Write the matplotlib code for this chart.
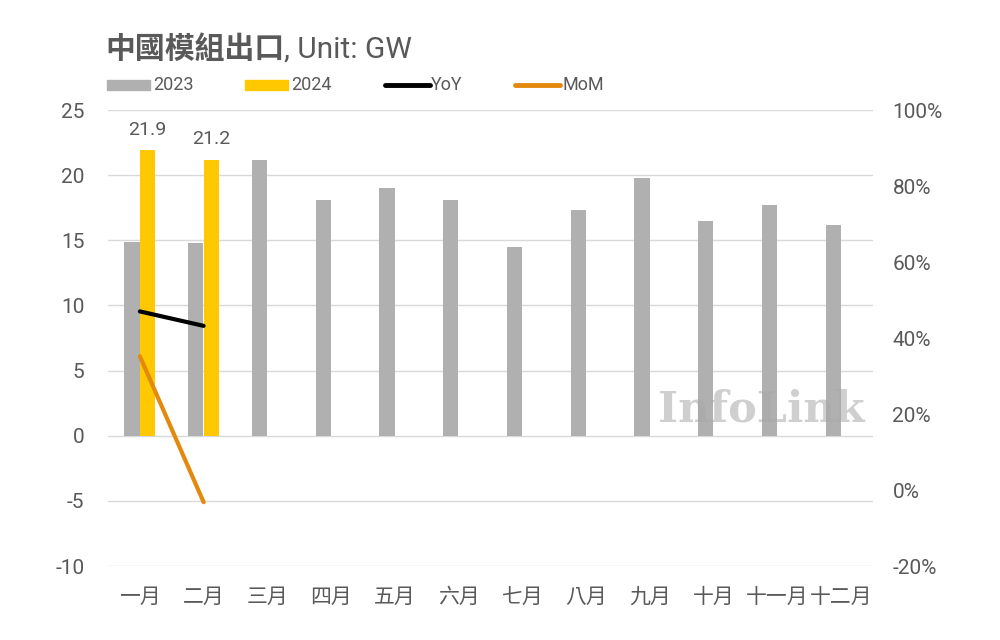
import matplotlib
matplotlib.use('Agg')
import matplotlib.pyplot as plt
import numpy as np
from matplotlib.patches import Rectangle
from matplotlib.lines import Line2D

plt.rcParams['font.family'] = ['Roboto', 'Noto Sans CJK TC', 'DejaVu Sans']
plt.rcParams['axes.unicode_minus'] = False

# Datos
meses = ['一月', '二月', '三月', '四月', '五月', '六月', '七月', '八月', '九月', '十月', '十一月', '十二月']
v2023 = [14.9, 14.8, 21.2, 18.1, 19.0, 18.1, 14.5, 17.3, 19.8, 16.5, 17.7, 16.2]
v2024 = [21.9, 21.2]
yoy = [47.0, 43.2]
mom = [35.2, -3.2]

c_gris = '#B0B0B0'
c_amarillo = '#FFC800'
c_naranja = '#E38A0E'
c_texto = '#595959'
c_grid = '#D9D9D9'

fig = plt.figure(figsize=(10, 6.4), dpi=100)
ax = fig.add_axes([0.108, 0.1156, 0.765, 0.7125])
ax2 = ax.twinx()

x = np.arange(len(meses))
w = 0.24
ax.bar(x - w / 2 - 0.005, v2023, w, color=c_gris, zorder=2)
x24 = np.arange(len(v2024))
ax.bar(x24 + w / 2 + 0.005, v2024, w, color=c_amarillo, zorder=2)
for xi, v in zip(x24, v2024):
    ax.text(xi + w / 2, v + 0.9, f'{v}', ha='center', va='bottom', fontsize=14, color=c_texto)

ax.set_ylim(-10, 25)
ax.set_yticks(np.arange(-10, 26, 5))
ax.set_xlim(-0.5, len(meses) - 0.5)
ax.set_xticks(x)
ax.set_xticklabels(meses, family=['Noto Sans CJK TC'])
ax.grid(axis='y', color=c_grid, linewidth=1, zorder=0)
ax.tick_params(axis='both', length=0, labelsize=15, labelcolor=c_texto)
ax.tick_params(axis='x', pad=14)
ax.tick_params(axis='y', pad=17)

ax2.set_ylim(-20, 100)
ax2.set_yticks(np.arange(-20, 101, 20))
ax2.set_yticklabels([f'{t}%' for t in range(-20, 101, 20)])
ax2.tick_params(axis='y', length=0, labelsize=15, labelcolor=c_texto, pad=14)
ax2.plot(x24, yoy, color='black', linewidth=3, solid_capstyle='round', zorder=5)
ax2.plot(x24, mom, color=c_naranja, linewidth=3, solid_capstyle='round', zorder=5)

for a in (ax, ax2):
    for s in a.spines.values():
        s.set_visible(False)

# Marca de agua
ax.text(9.75, 2.0, 'InfoLink', ha='center', va='center', fontsize=31, fontweight='bold',
        family='DejaVu Serif', color='#A8A8A8', alpha=0.55, zorder=6)

# Título
t1 = fig.text(0.105, 0.91, '中國模組出口', fontsize=21.5, fontweight='bold', color=c_texto,
              family=['Noto Sans CJK TC'], va='baseline')
r = fig.canvas.get_renderer()
bb = t1.get_window_extent(renderer=r)
fig.text(bb.x1 / fig.bbox.width, 0.91, ', Unit: GW', fontsize=21.5, color=c_texto, va='baseline')

# Leyenda
ly = 0.867
fig.patches.append(Rectangle((0.107, ly - 0.008), 0.043, 0.016, transform=fig.transFigure,
                             color=c_gris, figure=fig))
fig.text(0.153, ly, '2023', fontsize=13, color=c_texto, va='center')
fig.patches.append(Rectangle((0.245, ly - 0.008), 0.043, 0.016, transform=fig.transFigure,
                             color=c_amarillo, figure=fig))
fig.text(0.291, ly, '2024', fontsize=13, color=c_texto, va='center')
fig.lines.append(Line2D([0.385, 0.430], [ly, ly], transform=fig.transFigure, color='black',
                        linewidth=3.5, solid_capstyle='round'))
fig.text(0.431, ly, 'YoY', fontsize=13, color=c_texto, va='center')
fig.lines.append(Line2D([0.515, 0.560], [ly, ly], transform=fig.transFigure, color=c_naranja,
                        linewidth=3.5, solid_capstyle='round'))
fig.text(0.562, ly, 'MoM', fontsize=13, color=c_texto, va='center')

fig.savefig('out.png', dpi=100, facecolor='white')
